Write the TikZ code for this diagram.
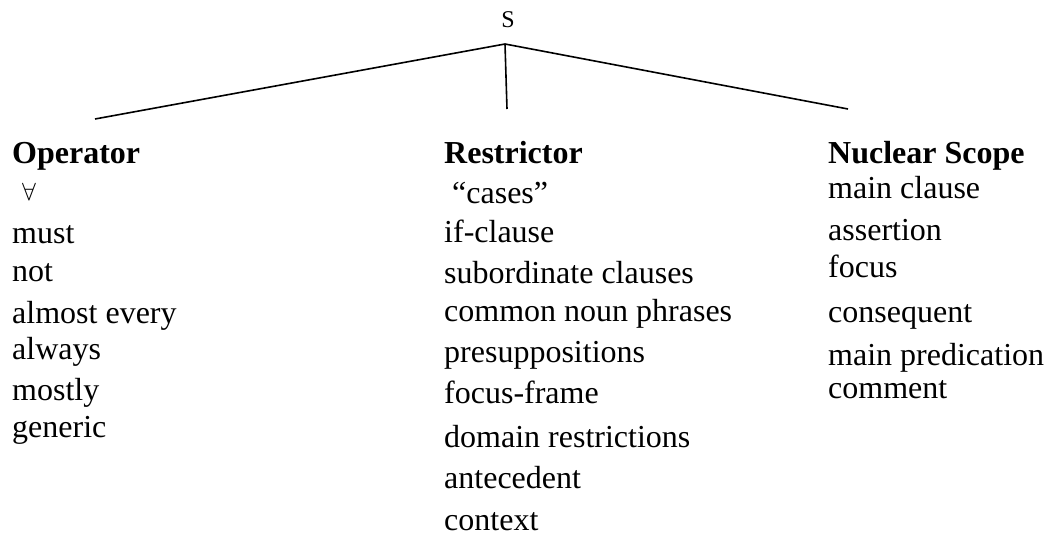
\documentclass[tikz,border=0pt]{standalone}
\usepackage{fontspec}
\setmainfont{Liberation Serif}
\begin{document}
\begin{tikzpicture}[x=1pt,y=-1pt,
  branch/.style={line width=1.6pt},
  item/.style={anchor=base west,inner sep=0pt,font=\fontsize{32}{36}\selectfont},
  head/.style={item,font=\fontsize{32}{36}\selectfont\bfseries},
  root/.style={anchor=base,inner sep=0pt,font=\fontsize{24}{28}\selectfont}]
\useasboundingbox (0,0) rectangle (1049,535);

% root and branch points
\node[root] (S) at (508,28) {S};
\coordinate (apex) at (505,44);
\coordinate (opEnd) at (95,119);
\coordinate (reEnd) at (507,109);
\coordinate (nsEnd) at (848,109);
\draw[branch] (apex) -- (opEnd);
\draw[branch] (apex) -- (reEnd);
\draw[branch] (apex) -- (nsEnd);

% Operator column
\node[head] (op) at (12,163) {Operator};
\node[item] (op1) at (22,200) {$\forall$};
\node[item] (op2) at (12,243) {must};
\node[item] (op3) at (12,281) {not};
\node[item] (op4) at (12,323) {almost every};
\node[item] (op5) at (12,359) {always};
\node[item] (op6) at (12,400) {mostly};
\node[item] (op7) at (12,437) {generic};

% Restrictor column
\node[head] (re) at (444,163) {Restrictor};
\node[item] (re1) at (452,203) {“cases”};
\node[item] (re2) at (444,242) {if-clause};
\node[item] (re3) at (444,283) {subordinate clauses};
\node[item] (re4) at (444,321) {common noun phrases};
\node[item] (re5) at (444,362) {presuppositions};
\node[item] (re6) at (444,403) {focus-frame};
\node[item] (re7) at (444,447) {domain restrictions};
\node[item] (re8) at (444,488) {antecedent};
\node[item] (re9) at (444,530) {context};

% Nuclear Scope column
\node[head] (ns) at (828,163) {Nuclear Scope};
\node[item] (ns1) at (828,198) {main clause};
\node[item] (ns2) at (828,240) {assertion};
\node[item] (ns3) at (828,277) {focus};
\node[item] (ns4) at (828,322) {consequent};
\node[item] (ns5) at (828,365) {main predication};
\node[item] (ns6) at (828,398) {comment};
\end{tikzpicture}
\end{document}
